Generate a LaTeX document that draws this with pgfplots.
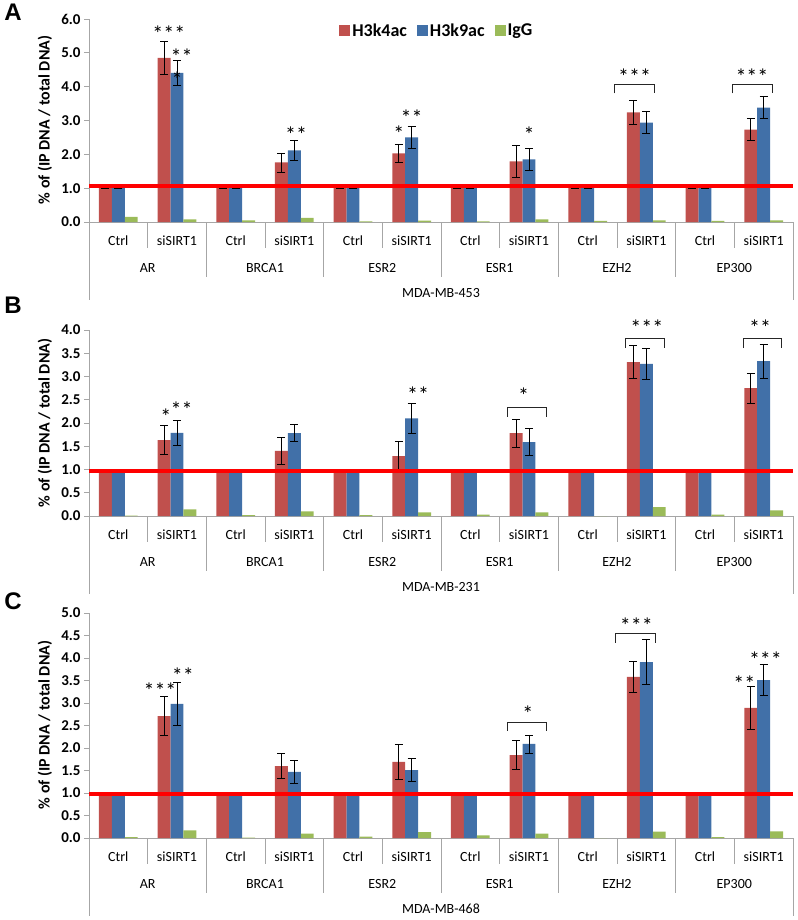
\documentclass[border=0pt]{standalone}
\usepackage{pgfplots}
\pgfplotsset{compat=1.18}
\usepackage{pgfplotstable}
\usepackage{fontspec}
\setmainfont{Carlito}
\newfontfamily\letterfont{Liberation Sans}
\definecolor{cred}{HTML}{C0504D}
\definecolor{cblue}{HTML}{4170A8}
\definecolor{cgreen}{HTML}{9BBB59}
\definecolor{axgray}{HTML}{A6A6A6}

\pgfplotstableread{
x k4 k4e k9 k9e igg
0 1 0.01 1 0.01 0.15
1 4.85 0.49 4.41 0.36 0.08
2 1 0.01 1 0.01 0.05
3 1.76 0.28 2.12 0.29 0.12
4 1 0.01 1 0.01 0.02
5 2.03 0.27 2.50 0.33 0.04
6 1 0.01 1 0.01 0.02
7 1.79 0.47 1.85 0.32 0.08
8 1 0.01 1 0.01 0.03
9 3.24 0.36 2.94 0.33 0.05
10 1 0.01 1 0.01 0.03
11 2.73 0.33 3.38 0.32 0.05
}\dataA

\pgfplotstableread{
x k4 k4e k9 k9e igg
0 1 0 1 0 0.01
1 1.63 0.31 1.79 0.27 0.14
2 1 0 1 0 0.02
3 1.40 0.29 1.78 0.18 0.10
4 1 0 1 0 0.02
5 1.29 0.31 2.10 0.33 0.08
6 1 0 1 0 0.03
7 1.78 0.30 1.59 0.29 0.08
8 1 0 1 0 0.00
9 3.31 0.36 3.27 0.33 0.19
10 1 0 1 0 0.03
11 2.75 0.32 3.33 0.36 0.12
}\dataB

\pgfplotstableread{
x k4 k4e k9 k9e igg
0 1 0 1 0 0.02
1 2.71 0.43 2.98 0.47 0.17
2 1 0 1 0 0.01
3 1.60 0.27 1.47 0.25 0.10
4 1 0 1 0 0.03
5 1.69 0.38 1.51 0.25 0.13
6 1 0 1 0 0.06
7 1.84 0.32 2.09 0.20 0.10
8 1 0 1 0 0.00
9 3.58 0.35 3.91 0.50 0.14
10 1 0 1 0 0.02
11 2.89 0.48 3.51 0.34 0.15
}\dataC

\tikzset{
  catlab/.style={font=\fontsize{14}{16}\selectfont, anchor=center, inner sep=0pt},
  stars/.style={font=\fontsize{22}{24}\selectfont, anchor=base, yshift=-10.5pt, inner sep=0pt},
  sep/.style={axgray, line width=0.8pt},
  brk/.style={black!85, line width=0.8pt},
}

\pgfplotsset{
  panel/.style={
    scale only axis, width=704pt, anchor=south west,
    ybar, bar width=12.9pt,
    xmin=-0.5, xmax=11.5, ymin=0,
    axis lines*=left,
    axis line style={axgray, line width=0.8pt},
    xtick=\empty,
    ytick style={axgray, line width=0.8pt},
    tick align=outside, major tick length=5pt,
    /pgf/number format/assume math mode=true,
    yticklabel style={font=\fontsize{15}{17}\selectfont\bfseries,
      /pgf/number format/.cd, fixed, fixed zerofill, precision=1},
    clip=false,
  },
  bars/.style={draw=none,
    error bars/y dir=both, error bars/y explicit,
    error bars/error bar style={black, line width=0.8pt},
    error bars/error mark options={black, rotate=90, mark size=4pt, line width=0.8pt}},
}

\newcommand{\xlabels}[1]{%
  \node[catlab, yshift=-19pt] at (axis cs:0,0) {Ctrl};
  \node[catlab, yshift=-19pt] at (axis cs:1,0) {siSIRT1};
  \node[catlab, yshift=-19pt] at (axis cs:2,0) {Ctrl};
  \node[catlab, yshift=-19pt] at (axis cs:3,0) {siSIRT1};
  \node[catlab, yshift=-19pt] at (axis cs:4,0) {Ctrl};
  \node[catlab, yshift=-19pt] at (axis cs:5,0) {siSIRT1};
  \node[catlab, yshift=-19pt] at (axis cs:6,0) {Ctrl};
  \node[catlab, yshift=-19pt] at (axis cs:7,0) {siSIRT1};
  \node[catlab, yshift=-19pt] at (axis cs:8,0) {Ctrl};
  \node[catlab, yshift=-19pt] at (axis cs:9,0) {siSIRT1};
  \node[catlab, yshift=-19pt] at (axis cs:10,0) {Ctrl};
  \node[catlab, yshift=-19pt] at (axis cs:11,0) {siSIRT1};
  \node[catlab, yshift=-46pt] at (axis cs:0.5,0) {AR};
  \node[catlab, yshift=-46pt] at (axis cs:2.5,0) {BRCA1};
  \node[catlab, yshift=-46pt] at (axis cs:4.5,0) {ESR2};
  \node[catlab, yshift=-46pt] at (axis cs:6.5,0) {ESR1};
  \node[catlab, yshift=-46pt] at (axis cs:8.5,0) {EZH2};
  \node[catlab, yshift=-46pt] at (axis cs:10.5,0) {EP300};
  \node[catlab, yshift=-71pt] at (axis cs:5.5,0) {#1};
  \draw[sep] (axis cs:0.5,0) -- ++(0pt,-26pt);
  \draw[sep] (axis cs:2.5,0) -- ++(0pt,-26pt);
  \draw[sep] (axis cs:4.5,0) -- ++(0pt,-26pt);
  \draw[sep] (axis cs:6.5,0) -- ++(0pt,-26pt);
  \draw[sep] (axis cs:8.5,0) -- ++(0pt,-26pt);
  \draw[sep] (axis cs:10.5,0) -- ++(0pt,-26pt);
  \draw[sep] (axis cs:1.5,0) -- ++(0pt,-55pt);
  \draw[sep] (axis cs:3.5,0) -- ++(0pt,-55pt);
  \draw[sep] (axis cs:5.5,0) -- ++(0pt,-55pt);
  \draw[sep] (axis cs:7.5,0) -- ++(0pt,-55pt);
  \draw[sep] (axis cs:9.5,0) -- ++(0pt,-55pt);
  \draw[sep] (axis cs:-0.5,0) -- ++(0pt,-78pt);
  \draw[sep] (axis cs:11.5,0) -- ++(0pt,-78pt);
}
\newcommand{\bracket}[4]{\draw[brk] (axis cs:#1,#4) |- (axis cs:#2,#3) -- (axis cs:#2,#4);}

\begin{document}
\begin{tikzpicture}
\path[use as bounding box] (0pt,0pt) rectangle (797pt,-920pt);

% ---------------- Panel A ----------------
\begin{axis}[panel, at={(89pt,-222pt)}, height=203pt, ymax=6, ytick={0,1,...,6},
  legend style={at={(axis cs:5.43,5.65)}, anchor=center, draw=none, fill=none,
    legend columns=3, font=\fontsize{18}{20}\selectfont\bfseries,
    /tikz/every even column/.append style={column sep=8pt}},
  legend image code/.code={\fill[#1] (0pt,-5.5pt) rectangle (11pt,5.5pt);}]
\addplot[bars, fill=cred, bar shift=-12.9pt] table[x=x, y=k4, y error=k4e] {\dataA};
\addplot[bars, fill=cblue, bar shift=0pt] table[x=x, y=k9, y error=k9e] {\dataA};
\addplot[draw=none, fill=cgreen, bar shift=12.9pt] table[x=x, y=igg] {\dataA};
\legend{H3k4ac, H3k9ac, IgG}
\addplot[sharp plot, red, line width=4pt, forget plot] coordinates {(-0.5,1.07) (11.5,1.07)};
\xlabels{MDA-MB-453}
\node[stars] at (axis cs:0.86,5.65) {***};
\node[stars] at (axis cs:1.08,4.97) {**};
\node[stars] at (axis cs:1.0,4.30) {*};
\node[stars] at (axis cs:3.03,2.65) {**};
\node[stars] at (axis cs:4.78,2.68) {*};
\node[stars] at (axis cs:5.0,3.15) {**};
\node[stars] at (axis cs:7.0,2.65) {*};
\bracket{8.46}{9.14}{4.06}{3.80}
\node[stars] at (axis cs:8.8,4.38) {***};
\bracket{10.47}{11.15}{4.06}{3.80}
\node[stars] at (axis cs:10.8,4.38) {***};
\end{axis}

% ---------------- Panel B ----------------
\begin{axis}[panel, at={(89pt,-516pt)}, height=186pt, ymax=4, ytick={0,0.5,...,4}]
\addplot[bars, fill=cred, bar shift=-12.9pt] table[x=x, y=k4, y error=k4e] {\dataB};
\addplot[bars, fill=cblue, bar shift=0pt] table[x=x, y=k9, y error=k9e] {\dataB};
\addplot[draw=none, fill=cgreen, bar shift=12.9pt] table[x=x, y=igg] {\dataB};
\addplot[sharp plot, red, line width=4pt, forget plot] coordinates {(-0.5,0.97) (11.5,0.97)};
\xlabels{MDA-MB-231}
\node[stars] at (axis cs:0.81,2.19) {*};
\node[stars] at (axis cs:1.08,2.34) {**};
\node[stars] at (axis cs:5.11,2.67) {**};
\bracket{6.63}{7.30}{2.34}{2.13}
\node[stars] at (axis cs:6.91,2.64) {*};
\bracket{8.65}{9.31}{3.81}{3.61}
\node[stars] at (axis cs:9.01,4.10) {***};
\bracket{10.65}{11.31}{3.81}{3.61}
\node[stars] at (axis cs:10.94,4.10) {**};
\end{axis}

% ---------------- Panel C ----------------
\begin{axis}[panel, at={(89pt,-838pt)}, height=225pt, ymax=5, ytick={0,0.5,...,5}]
\addplot[bars, fill=cred, bar shift=-12.9pt] table[x=x, y=k4, y error=k4e] {\dataC};
\addplot[bars, fill=cblue, bar shift=0pt] table[x=x, y=k9, y error=k9e] {\dataC};
\addplot[draw=none, fill=cgreen, bar shift=12.9pt] table[x=x, y=igg] {\dataC};
\addplot[sharp plot, red, line width=4pt, forget plot] coordinates {(-0.5,0.97) (11.5,0.97)};
\xlabels{MDA-MB-468}
\node[stars] at (axis cs:0.71,3.33) {***};
\node[stars] at (axis cs:1.10,3.67) {**};
\bracket{6.63}{7.30}{2.58}{2.38}
\node[stars] at (axis cs:6.98,2.82) {*};
\bracket{8.47}{9.15}{4.55}{4.34}
\node[stars] at (axis cs:8.83,4.78) {***};
\node[stars] at (axis cs:10.67,3.49) {**};
\node[stars] at (axis cs:11.03,4.02) {***};
\end{axis}

% y labels and panel letters
\node[rotate=90, font=\fontsize{16}{18}\selectfont\bfseries] at (45pt,-120pt) {\% of (IP DNA / total DNA)};
\node[rotate=90, font=\fontsize{16}{18}\selectfont\bfseries] at (45pt,-423pt) {\% of (IP DNA / total DNA)};
\node[rotate=90, font=\fontsize{16}{18}\selectfont\bfseries] at (45pt,-725pt) {\% of (IP DNA / total DNA)};
\node[font=\fontsize{24}{26}\selectfont\letterfont\bfseries] at (13pt,-12pt) {A};
\node[font=\fontsize{24}{26}\selectfont\letterfont\bfseries] at (13pt,-305pt) {B};
\node[font=\fontsize{24}{26}\selectfont\letterfont\bfseries] at (13pt,-601pt) {C};
\end{tikzpicture}
\end{document}
